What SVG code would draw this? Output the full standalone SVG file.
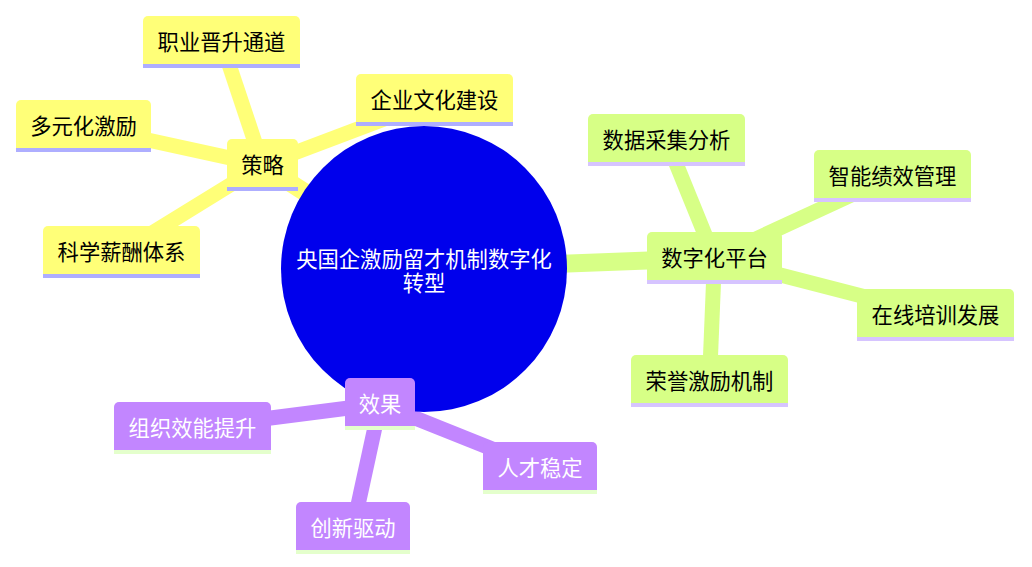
<svg xmlns="http://www.w3.org/2000/svg" width="1032" height="567" viewBox="0 0 1032 567">
<style>
.e{fill:none;stroke-linecap:butt}
.e0{stroke-width:18}
.e1{stroke-width:15}
.y{stroke:#ffff78}
.g{stroke:#d7ff86}
.p{stroke:#c286ff}
.yf{fill:#ffff78}
.gf{fill:#d7ff86}
.pf{fill:#c286ff}
.yl{stroke:#aeaeff;stroke-width:4}
.gl{stroke:#d6c4ff;stroke-width:4}
.pl{stroke:#e4ffcc;stroke-width:4}
text{font-family:"Noto Sans CJK SC","Noto Sans",sans-serif;font-size:21.3px;text-anchor:middle;dominant-baseline:central}
.dk{fill:#000}
.wt{fill:#fff}
</style>
<rect width="1032" height="567" fill="#fff"/>
<g id="connectors">
<line class="e e0 y" x1="424" y1="269" x2="262.5" y2="165"/>
<line class="e e0 g" x1="424" y1="269" x2="714.5" y2="258"/>
<line class="e e0 p" x1="424" y1="269" x2="380" y2="404"/>
<line class="e e1 y" x1="262.5" y1="165" x2="221.5" y2="42"/>
<line class="e e1 y" x1="262.5" y1="165" x2="434.5" y2="100"/>
<line class="e e1 y" x1="262.5" y1="165" x2="83.5" y2="126"/>
<line class="e e1 y" x1="262.5" y1="165" x2="121.5" y2="252"/>
<line class="e e1 g" x1="714.5" y1="258" x2="666.5" y2="140"/>
<line class="e e1 g" x1="714.5" y1="258" x2="892.5" y2="176"/>
<line class="e e1 g" x1="714.5" y1="258" x2="935.5" y2="315"/>
<line class="e e1 g" x1="714.5" y1="258" x2="709.5" y2="381"/>
<line class="e e1 p" x1="380" y1="404" x2="192.5" y2="428"/>
<line class="e e1 p" x1="380" y1="404" x2="540" y2="468"/>
<line class="e e1 p" x1="380" y1="404" x2="353" y2="528"/>
</g>
<g id="root">
<circle cx="424" cy="269" r="143" fill="#0000ec"/>
<text class="wt" x="424" y="257">央国企激励留才机制数字化<tspan x="424" dy="23.5">转型</tspan></text>
</g>
<g id="n-celue">
<path class="yf" d="M227 144a5 5 0 0 1 5-5h61a5 5 0 0 1 5 5v47h-71z"/>
<line class="yl" x1="227" y1="189" x2="298" y2="189"/>
<text class="dk" x="262.5" y="163">策略</text>
</g>
<g id="n-zhiye">
<path class="yf" d="M143 21a5 5 0 0 1 5-5h147a5 5 0 0 1 5 5v47h-157z"/>
<line class="yl" x1="143" y1="66" x2="300" y2="66"/>
<text class="dk" x="221.5" y="40">职业晋升通道</text>
</g>
<g id="n-qiye">
<path class="yf" d="M356 79a5 5 0 0 1 5-5h147a5 5 0 0 1 5 5v47h-157z"/>
<line class="yl" x1="356" y1="124" x2="513" y2="124"/>
<text class="dk" x="434.5" y="98">企业文化建设</text>
</g>
<g id="n-duoyuan">
<path class="yf" d="M16 105a5 5 0 0 1 5-5h125a5 5 0 0 1 5 5v47h-135z"/>
<line class="yl" x1="16" y1="150" x2="151" y2="150"/>
<text class="dk" x="83.5" y="124">多元化激励</text>
</g>
<g id="n-kexue">
<path class="yf" d="M43 231a5 5 0 0 1 5-5h147a5 5 0 0 1 5 5v47h-157z"/>
<line class="yl" x1="43" y1="276" x2="200" y2="276"/>
<text class="dk" x="121.5" y="250">科学薪酬体系</text>
</g>
<g id="n-shuzihua">
<path class="gf" d="M647 237a5 5 0 0 1 5-5h125a5 5 0 0 1 5 5v47h-135z"/>
<line class="gl" x1="647" y1="282" x2="782" y2="282"/>
<text class="dk" x="714.5" y="256">数字化平台</text>
</g>
<g id="n-shuju">
<path class="gf" d="M588 119a5 5 0 0 1 5-5h147a5 5 0 0 1 5 5v47h-157z"/>
<line class="gl" x1="588" y1="164" x2="745" y2="164"/>
<text class="dk" x="666.5" y="138">数据采集分析</text>
</g>
<g id="n-zhineng">
<path class="gf" d="M814 155a5 5 0 0 1 5-5h147a5 5 0 0 1 5 5v47h-157z"/>
<line class="gl" x1="814" y1="200" x2="971" y2="200"/>
<text class="dk" x="892.5" y="174">智能绩效管理</text>
</g>
<g id="n-zaixian">
<path class="gf" d="M857 294a5 5 0 0 1 5-5h147a5 5 0 0 1 5 5v47h-157z"/>
<line class="gl" x1="857" y1="339" x2="1014" y2="339"/>
<text class="dk" x="935.5" y="313">在线培训发展</text>
</g>
<g id="n-rongyu">
<path class="gf" d="M631 360a5 5 0 0 1 5-5h147a5 5 0 0 1 5 5v47h-157z"/>
<line class="gl" x1="631" y1="405" x2="788" y2="405"/>
<text class="dk" x="709.5" y="379">荣誉激励机制</text>
</g>
<g id="n-xiaoguo">
<path class="pf" d="M345 383a5 5 0 0 1 5-5h60a5 5 0 0 1 5 5v47h-70z"/>
<line class="pl" x1="345" y1="428" x2="415" y2="428"/>
<text class="wt" x="380" y="402">效果</text>
</g>
<g id="n-zuzhi">
<path class="pf" d="M114 407a5 5 0 0 1 5-5h147a5 5 0 0 1 5 5v47h-157z"/>
<line class="pl" x1="114" y1="452" x2="271" y2="452"/>
<text class="wt" x="192.5" y="426">组织效能提升</text>
</g>
<g id="n-rencai">
<path class="pf" d="M483 447a5 5 0 0 1 5-5h104a5 5 0 0 1 5 5v47h-114z"/>
<line class="pl" x1="483" y1="492" x2="597" y2="492"/>
<text class="wt" x="540" y="466">人才稳定</text>
</g>
<g id="n-chuangxin">
<path class="pf" d="M296 507a5 5 0 0 1 5-5h104a5 5 0 0 1 5 5v47h-114z"/>
<line class="pl" x1="296" y1="552" x2="410" y2="552"/>
<text class="wt" x="353" y="526">创新驱动</text>
</g>
</svg>
